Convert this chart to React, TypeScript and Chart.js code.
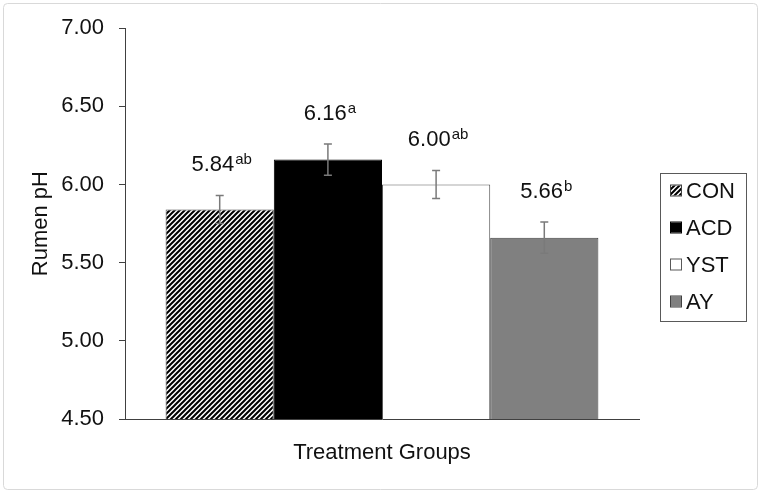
import React, { useEffect, useRef } from 'react';
import { Chart, registerables } from 'chart.js';

Chart.register(...registerables);

// ---- data ----
const groups = ['CON', 'ACD', 'YST', 'AY'];
const means = [5.84, 6.16, 6.0, 5.66];
const errors = [0.09, 0.1, 0.09, 0.1];
const letters = ['ab', 'a', 'ab', 'b'];
const yTicks = [4.5, 5.0, 5.5, 6.0, 6.5, 7.0];
const xTitle = 'Treatment Groups';
const yTitle = 'Rumen pH';

const FONT = '"Liberation Sans", Arial, Helvetica, sans-serif';
const TEXT = '#111111';

function makeHatch(): CanvasPattern | string {
  const n = 5;
  const c = document.createElement('canvas');
  c.width = n;
  c.height = n;
  const g = c.getContext('2d');
  if (!g) return '#555';
  g.fillStyle = '#ffffff';
  g.fillRect(0, 0, n, n);
  g.strokeStyle = '#000000';
  g.lineWidth = 2;
  g.beginPath();
  for (let k = -1; k <= 1; k++) {
    g.moveTo(-n + k * n, n + n);
    g.lineTo(n + n + k * n, -n);
  }
  g.stroke();
  const p = g.createPattern(c, 'repeat');
  return p || '#555';
}

export default function App() {
  const ref = useRef<HTMLCanvasElement>(null);

  useEffect(() => {
    document.body.style.margin = '0';
    const canvas = ref.current;
    if (!canvas) return;
    const hatch = makeHatch();
    const fills: any[] = [hatch, '#000000', '#ffffff', '#808080'];
    const borders = ['#404040', '#000000', '#595959', '#404040'];

    const annot = {
      id: 'annot',
      beforeDraw(chart: any) {
        const ctx = chart.ctx;
        ctx.save();
        ctx.fillStyle = '#ffffff';
        ctx.fillRect(0, 0, chart.width, chart.height);
        ctx.restore();
      },
      afterDatasetsDraw(chart: any) {
        const ctx = chart.ctx;
        const y = chart.scales.y;
        chart.data.datasets.forEach((ds: any, i: number) => {
          const el = chart.getDatasetMeta(i).data[0];
          const x = el.x;
          const top = y.getPixelForValue(means[i] + errors[i]);
          const bot = y.getPixelForValue(means[i] - errors[i]);
          ctx.save();
          ctx.strokeStyle = '#7a7a7a';
          ctx.lineWidth = 1.5;
          ctx.beginPath();
          ctx.moveTo(x, top);
          ctx.lineTo(x, bot);
          ctx.moveTo(x - 4, top);
          ctx.lineTo(x + 4, top);
          ctx.moveTo(x - 4, bot);
          ctx.lineTo(x + 4, bot);
          ctx.stroke();

          const main = means[i].toFixed(2);
          ctx.font = `22px ${FONT}`;
          const w1 = ctx.measureText(main).width;
          ctx.font = `15px ${FONT}`;
          const w2 = ctx.measureText(letters[i]).width;
          const start = x - (w1 + w2 + 1) / 2 + 2;
          const base = top - 24;
          ctx.fillStyle = TEXT;
          ctx.textAlign = 'left';
          ctx.textBaseline = 'alphabetic';
          ctx.font = `22px ${FONT}`;
          ctx.fillText(main, start, base);
          ctx.font = `15px ${FONT}`;
          ctx.fillText(letters[i], start + w1 + 1, base - 7);
          ctx.restore();
        });
      },
      afterDraw(chart: any) {
        const ctx = chart.ctx;
        const area = chart.chartArea;
        ctx.save();
        // axis titles
        ctx.fillStyle = TEXT;
        ctx.font = `22px ${FONT}`;
        ctx.textAlign = 'center';
        ctx.textBaseline = 'alphabetic';
        ctx.fillText(xTitle, (area.left + area.right) / 2, 459);
        ctx.save();
        ctx.translate(41, (area.top + area.bottom) / 2);
        ctx.rotate(-Math.PI / 2);
        ctx.textBaseline = 'middle';
        ctx.fillText(yTitle, 0, 0);
        ctx.restore();

        // legend
        ctx.strokeStyle = '#595959';
        ctx.lineWidth = 1;
        ctx.strokeRect(660.5, 173.5, 86, 148);
        groups.forEach((g, i) => {
          const cy = 190.5 + i * 37;
          ctx.fillStyle = fills[i];
          ctx.fillRect(671, cy - 5, 10, 10);
          ctx.strokeStyle = borders[i];
          ctx.strokeRect(670.5, cy - 5.5, 11, 11);
          ctx.fillStyle = TEXT;
          ctx.font = `22px ${FONT}`;
          ctx.textAlign = 'left';
          ctx.textBaseline = 'middle';
          ctx.fillText(g, 686, cy + 1);
        });

        // outer frame
        ctx.strokeStyle = '#d9d9d9';
        ctx.lineWidth = 1;
        ctx.beginPath();
        (ctx as any).roundRect(3.5, 3.5, 754, 486, 4);
        ctx.stroke();
        ctx.restore();
      },
    };

    const chart = new Chart(canvas, {
      type: 'bar',
      data: {
        labels: [''],
        datasets: groups.map((g, i) => ({
          label: g,
          data: [means[i]],
          backgroundColor: fills[i],
          borderColor: borders[i],
          borderWidth: 1,
          categoryPercentage: 0.842,
          barPercentage: 1.0,
        })),
      },
      options: {
        responsive: false,
        animation: false,
        events: [],
        layout: { padding: { left: 0, right: 125, top: 27, bottom: 0 } },
        plugins: { legend: { display: false }, tooltip: { enabled: false } },
        scales: {
          x: {
            ticks: { display: false },
            grid: { display: false },
            border: { display: true, color: '#404040', width: 1 },
            afterFit: (s: any) => {
              s.height = 76;
            },
          },
          y: {
            min: yTicks[0],
            max: yTicks[yTicks.length - 1],
            afterBuildTicks: (s: any) => {
              s.ticks = yTicks.map((v) => ({ value: v }));
            },
            ticks: {
              callback: (v: any) => Number(v).toFixed(2),
              font: { size: 22, family: FONT },
              color: TEXT,
              padding: 15,
            },
            grid: { drawOnChartArea: false, drawTicks: true, tickLength: 6, color: '#404040' },
            border: { display: true, color: '#404040', width: 1 },
            afterFit: (s: any) => {
              s.width = 125;
            },
          },
        },
      },
      plugins: [annot],
    } as any);
    return () => chart.destroy();
  }, []);

  return (
    <div style={{ width: 764, height: 495 }}>
      <canvas ref={ref} width={764} height={495} style={{ display: 'block' }} />
    </div>
  );
}
